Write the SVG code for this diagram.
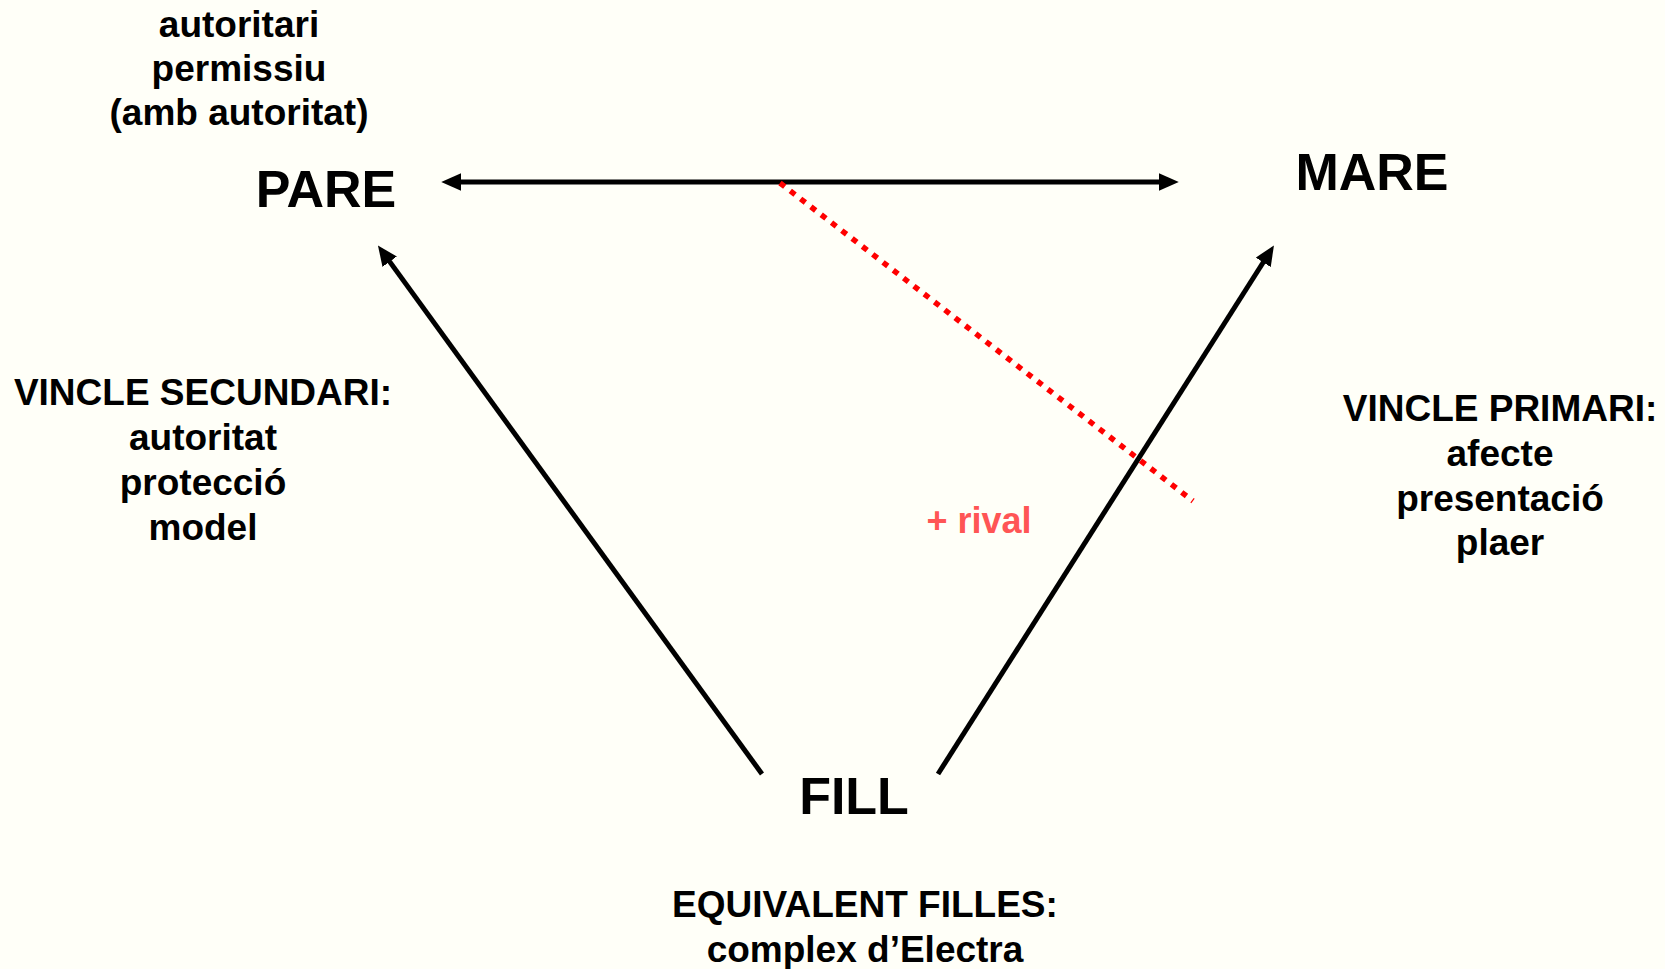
<svg xmlns="http://www.w3.org/2000/svg" width="1665" height="969" viewBox="0 0 1665 969">
<defs>
<style>
text{font-family:"Liberation Sans",Arial,sans-serif;font-weight:bold;fill:#000;text-anchor:middle}
.big{font-size:52px}
.mid{font-size:37px}
.rival{font-size:36px;fill:#FF5555}
.conn{stroke:#000;fill:none}
.red{stroke:#FF0000;stroke-width:5.5;stroke-dasharray:6 7;fill:none}
</style>
<marker id="ah" markerUnits="userSpaceOnUse" markerWidth="20" markerHeight="18" viewBox="0 0 18 16" refX="2" refY="8" orient="auto-start-reverse">
<path d="M0,0 L18,8 L0,16 z" fill="#000"/>
</marker>
</defs>
<rect width="1665" height="969" fill="#FFFFF8"/>
<g id="connectors">
<line class="conn" x1="459" y1="182" x2="1161" y2="182" stroke-width="5" marker-start="url(#ah)" marker-end="url(#ah)"/>
<line class="conn" x1="762" y1="774" x2="388.4" y2="259.9" stroke-width="5" marker-end="url(#ah)"/>
<line class="conn" x1="938" y1="774" x2="1264.4" y2="260.5" stroke-width="5" marker-end="url(#ah)"/>
<line class="red" x1="780" y1="183" x2="1193" y2="501"/>
</g>
<g id="pare-notes">
<text class="mid" x="239" y="37">autoritari</text>
<text class="mid" x="239" y="81">permissiu</text>
<text class="mid" x="239" y="125">(amb autoritat)</text>
</g>
<g id="pare"><text class="big" x="326" y="207">PARE</text></g>
<g id="mare"><text class="big" x="1372" y="190">MARE</text></g>
<g id="fill"><text class="big" x="854" y="814">FILL</text></g>
<g id="vincle-secundari">
<text class="mid" x="203" y="405">VINCLE SECUNDARI:</text>
<text class="mid" x="203" y="450">autoritat</text>
<text class="mid" x="203" y="495">protecció</text>
<text class="mid" x="203" y="540">model</text>
</g>
<g id="vincle-primari">
<text class="mid" x="1500" y="421">VINCLE PRIMARI:</text>
<text class="mid" x="1500" y="466">afecte</text>
<text class="mid" x="1500" y="511">presentació</text>
<text class="mid" x="1500" y="555">plaer</text>
</g>
<g id="rival"><text class="rival" x="979" y="533">+ rival</text></g>
<g id="equivalent">
<text class="mid" x="865" y="917">EQUIVALENT FILLES:</text>
<text class="mid" x="865" y="962">complex d’Electra</text>
</g>
</svg>
